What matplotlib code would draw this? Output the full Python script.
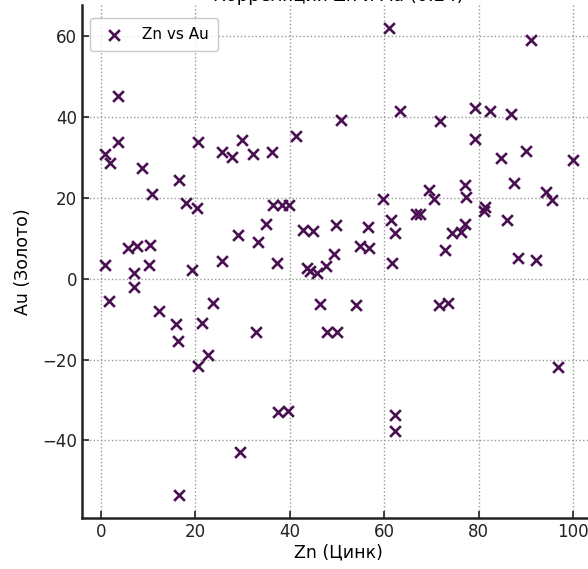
import matplotlib
matplotlib.use("Agg")
import matplotlib.pyplot as plt

zn = [0.8, 1.9, 3.6, 3.6, 8.8, 10.9, 16.6, 18.0, 20.4, 20.6, 25.6, 27.7, 29.8, 32.3,
      29.1, 33.2, 5.8, 7.7, 10.5, 0.8, 7.1, 10.2, 19.3, 25.6, 7.0, 1.7, 12.4, 16.0,
      16.3, 21.5, 23.7, 22.7, 20.6, 32.9, 29.4, 16.5, 61.0, 63.3, 50.8, 41.2, 36.2,
      36.5, 38.3, 39.9, 35.0, 37.3, 42.8, 44.8, 49.7, 56.6, 54.9, 56.8, 49.3, 43.6,
      44.3, 45.7, 47.6, 59.8, 61.5, 62.2, 61.6, 66.7, 67.5, 91.1, 79.1, 82.4, 86.8,
      71.8, 79.1, 84.7, 90.0, 100.0, 87.5, 69.5, 70.5, 77.0, 77.2, 81.4, 81.1, 86.0,
      77.0, 76.3, 74.4, 72.9, 88.2, 92.1, 94.2, 95.5, 46.3, 53.9, 47.9, 49.9, 37.5,
      39.6, 62.3, 62.3, 71.5, 73.4, 96.7]
au = [30.8, 28.5, 45.2, 33.7, 27.4, 20.9, 24.5, 18.7, 17.4, 33.7, 31.3, 30.0, 34.2, 30.8,
      10.8, 9.1, 7.7, 8.1, 8.4, 3.5, 1.5, 3.4, 2.1, 4.4, -2.0, -5.5, -8.1, -11.3,
      -15.5, -10.9, -6.1, -18.8, -21.6, -13.3, -42.8, -53.4, 61.9, 41.4, 39.3, 35.2, 31.3,
      18.3, 18.3, 18.3, 13.5, 3.8, 12.1, 11.7, 13.2, 12.7, 8.2, 7.7, 6.2, 2.7,
      1.9, 1.5, 3.2, 19.8, 14.4, 11.2, 3.8, 16.0, 16.0, 59.1, 42.3, 41.4, 40.8,
      39.0, 34.5, 29.9, 31.5, 29.4, 23.6, 21.9, 19.7, 23.1, 20.2, 17.8, 16.7, 14.5,
      13.6, 11.6, 11.2, 7.0, 5.0, 4.7, 21.5, 19.5, -6.3, -6.5, -13.2, -13.1, -33.1,
      -32.8, -33.7, -37.8, -6.4, -6.0, -21.9]

title = "Корреляция Zn и Au (0.24)"
xlabel = "Zn (Цинк)"
ylabel = "Au (Золото)"
series_label = "Zn vs Au"

plt.rcParams['font.family'] = ['DejaVu Sans']
fig = plt.figure(figsize=(5.88, 5.69), dpi=100)
W, H = 588, 569
left_px, right_px, top_px, bottom_px = 82, 595, 5, 518
ax = fig.add_axes([left_px / W, 1 - bottom_px / H, (right_px - left_px) / W, (bottom_px - top_px) / H])

ax.scatter(zn, au, marker='x', s=60, color='#4a1052', linewidths=1.9, label=series_label, zorder=3)
ax.set_xlim(-4.0, 104.6)
ax.set_ylim(-59.2, 67.7)
ax.set_xticks([0, 20, 40, 60, 80, 100])
ax.set_yticks([-40, -20, 0, 20, 40, 60])
ax.grid(True, linestyle=':', color='#999999', linewidth=1.0)
ax.set_axisbelow(True)
for s in ['top', 'right']:
    ax.spines[s].set_visible(False)
for s in ['left', 'bottom']:
    ax.spines[s].set_linewidth(1.8)
    ax.spines[s].set_color('#222222')
ax.tick_params(direction='in', length=5, width=1.2, labelsize=12, colors='#222222')
ax.set_xlabel(xlabel, fontsize=12.5, labelpad=2)
ax.set_ylabel(ylabel, fontsize=12.5, labelpad=7)
ax.set_title(title, fontsize=13, pad=3)
bx = (90 - left_px) / (right_px - left_px)
by = 1 - (18 - top_px) / (bottom_px - top_px)
leg = ax.legend(loc='upper left', fontsize=11, frameon=True, fancybox=True,
                edgecolor='#bbbbbb', bbox_to_anchor=(bx, by), borderaxespad=0.0,
                borderpad=0.6)
fig.savefig('out.png', dpi=100)
